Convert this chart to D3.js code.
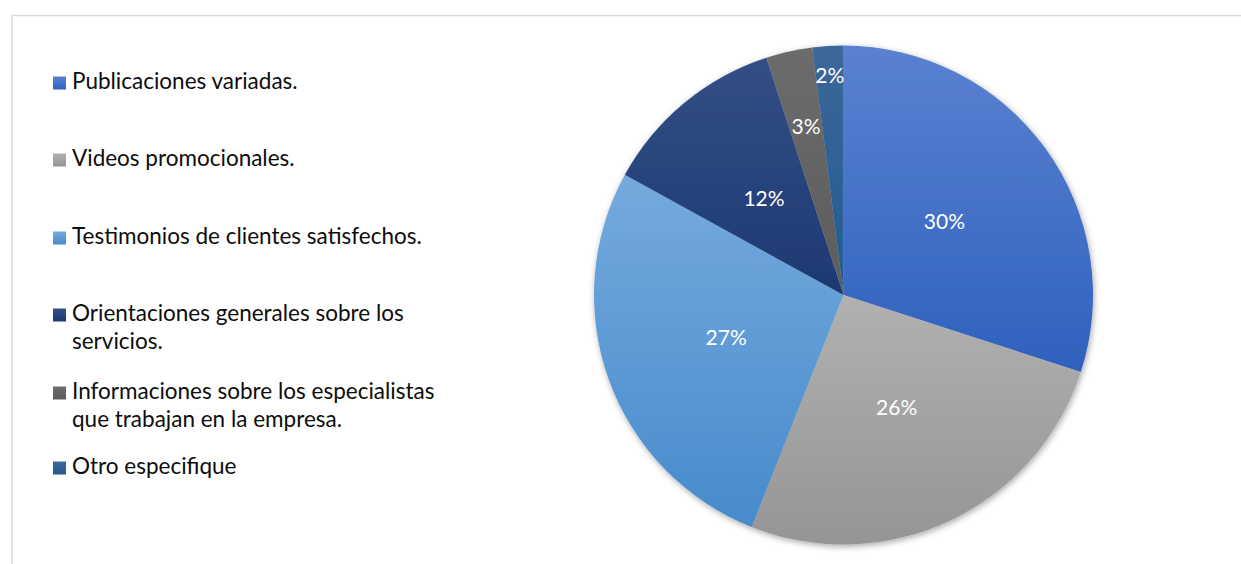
<!DOCTYPE html>
<html>
<head>
<meta charset="utf-8">
<script src="https://cdn.jsdelivr.net/npm/d3@7"></script>
<style>
  html, body { margin: 0; padding: 0; background: #ffffff; overflow: hidden; }
  svg { display: block; }
</style>
</head>
<body>
<svg id="chart" width="1241" height="564"></svg>
<script>
// Categories, in legend / clockwise slice order
const categories = [
  "Publicaciones variadas.",
  "Videos promocionales.",
  "Testimonios de clientes satisfechos.",
  "Orientaciones generales sobre los servicios.",
  "Informaciones sobre los especialistas que trabajan en la empresa.",
  "Otro especifique"
];
// Share of answers, in percent
const values = [30, 26, 27, 12, 3, 2];
// Legend text, already broken into lines
const legendLines = [
  ["Publicaciones variadas."],
  ["Videos promocionales."],
  ["Testimonios de clientes satisfechos."],
  ["Orientaciones generales sobre los", "servicios."],
  ["Informaciones sobre los especialistas", "que trabajan en la empresa."],
  ["Otro especifique"]
];

// Slice fills: lighter at the top, darker at the bottom
const fillTop    = ["#5b81d0", "#b1b1b1", "#75aadd", "#334f86", "#6c6c6c", "#3d6799"];
const fillBottom = ["#2e61be", "#959595", "#478bcc", "#1d3972", "#5c5c5c", "#225c92"];
// Distance of each value label from the centre, as a fraction of the radius
const labelRadius = [0.5, 0.5, 0.5, 0.5, 0.69, 0.88];

const svg = d3.select("#chart");
const W = 1241, H = 564;
const FONT = "Lato, 'Open Sans', sans-serif";

const defs = svg.append("defs");
categories.forEach((c, i) => {
  const g = defs.append("linearGradient")
    .attr("id", "grad" + i)
    .attr("x1", 0).attr("y1", 0).attr("x2", 0).attr("y2", 1);
  g.append("stop").attr("offset", "0%").attr("stop-color", fillTop[i]);
  g.append("stop").attr("offset", "100%").attr("stop-color", fillBottom[i]);
});
const shadow = defs.append("filter").attr("id", "pieShadow")
  .attr("x", "-10%").attr("y", "-10%").attr("width", "120%").attr("height", "120%");
shadow.append("feDropShadow")
  .attr("dx", 1).attr("dy", 2).attr("stdDeviation", 3)
  .attr("flood-color", "#000").attr("flood-opacity", 0.35);

// Chart-area frame (runs past the right and bottom edges)
svg.append("rect")
  .attr("x", 12).attr("y", 15.5)
  .attr("width", W + 20).attr("height", H + 20)
  .attr("fill", "none").attr("stroke", "#d9d9d9").attr("stroke-width", 1.5);

// Pie
const cx = 843.5, cy = 295, R = 249.5;
const pie = d3.pie().sort(null).value(d => d)
  .startAngle(0).endAngle(2 * Math.PI);
const arcs = pie(values);
const arc = d3.arc().innerRadius(0).outerRadius(R);

const gPie = svg.append("g").attr("transform", `translate(${cx},${cy})`);
gPie.append("g").attr("filter", "url(#pieShadow)")
  .selectAll("path")
  .data(arcs)
  .join("path")
  .attr("d", arc)
  .attr("fill", (d, i) => `url(#grad${i})`);

// Value labels
const fmt = d3.format(".0%");
const total = d3.sum(values);
gPie.selectAll("text.val")
  .data(arcs)
  .join("text")
  .attr("class", "val")
  .attr("transform", (d, i) => {
    const r = R * labelRadius[i];
    const a = (d.startAngle + d.endAngle) / 2;
    return `translate(${r * Math.sin(a)},${-r * Math.cos(a)})`;
  })
  .attr("text-anchor", "middle")
  .attr("dy", "0.35em")
  .attr("fill", "#ffffff")
  .attr("font-family", FONT)
  .attr("font-size", 21)
  .text(d => fmt(d.value / total));

// Legend
const legendX = 53, legendBaselines = [89, 166, 244, 321, 399, 474];
const lineH = 28;
const gLeg = svg.append("g");
legendLines.forEach((lines, i) => {
  const y = legendBaselines[i];
  gLeg.append("rect")
    .attr("x", legendX).attr("y", y - 12.5)
    .attr("width", 13).attr("height", 13)
    .attr("fill", `url(#grad${i})`);
  const t = gLeg.append("text")
    .attr("x", legendX + 19).attr("y", y)
    .attr("fill", "#0d0d0d")
    .attr("font-family", FONT)
    .attr("font-size", 22.5);
  lines.forEach((ln, k) => {
    t.append("tspan")
      .attr("x", legendX + 19)
      .attr("dy", k === 0 ? 0 : lineH)
      .text(ln);
  });
});
</script>
</body>
</html>
